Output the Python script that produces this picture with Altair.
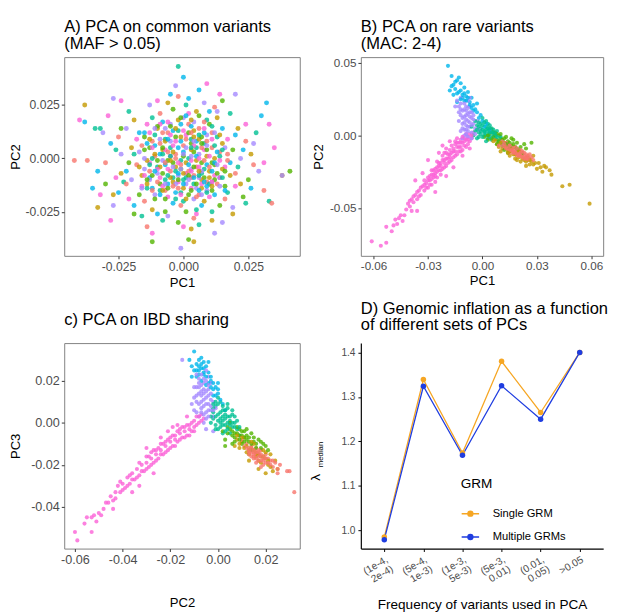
import altair as alt
import pandas as pd

PAL = ["#F8766D", "#C49A00", "#53B400", "#00C094", "#00B6EB", "#A58AFF", "#FB61D7"]
GROUPS = ["g1", "g2", "g3", "g4", "g5", "g6", "g7"]

# ---------------- Panel A: PCA on common variants (values in units of 1e-3)
A_g1 = [(-3,2),(5,-4),(-12,8),(14,3),(-7,-15),(2,16),(9,-11),(-18,-3),(20,-7),(-1,-22),(11,12),(-9,21),(-25,10),(24,8),(4,-28),(-15,-20),(16,-19),(0,6),(-5,-6),(7,5),(-22,-12),(27,-3),(-2,29),(12,24),(-30,-2),(6,-17),(-11,1),(17,-1),(-6,12),(3,-9),(-37,-1),(31,-15),(-14,-32),(-42,-1),(34,-21)]
A_g2 = [(1,-2),(-8,4),(10,-6),(-4,-11),(6,9),(-16,-8),(15,7),(-2,18),(8,-20),(-20,5),(22,-12),(-12,-24),(13,19),(-27,-17),(26,2),(-6,26),(3,-33),(19,-26),(-10,14),(0,-14),(9,1),(-14,-1),(4,13),(-19,18),(11,-29),(-3,-4),(18,-8),(-24,-7),(7,-10),(-33,-23),(38,-8),(21,14),(5,22),(-38,25),(4,-39)]
A_g3 = [(-1,-5),(4,3),(-6,-1),(8,-9),(-9,-12),(12,-3),(-3,10),(2,-17),(-13,5),(16,-13),(-17,-17),(6,20),(-21,-2),(23,-18),(-7,-25),(10,16),(-24,14),(1,-25),(14,-22),(-11,-19),(19,4),(-4,23),(7,-2),(-15,10),(-8,-7),(3,7),(11,-15),(-2,-30),(-19,-26),(25,-10),(-30,-12),(2,-38),(15,27),(41,-6),(-12,-39)]
A_g4 = [(2,0),(-5,5),(7,-7),(-10,-4),(4,-12),(-2,13),(13,10),(-14,-14),(17,-16),(-19,2),(0,-20),(9,18),(-8,-29),(21,-4),(-12,19),(5,-24),(-23,-11),(14,1),(-4,-9),(8,7),(-16,-27),(24,-21),(-26,4),(1,25),(18,21),(-7,9),(11,-25),(-1,-1),(-21,22),(28,12),(6,-31),(-34,14),(33,-20),(-2,43),(-32,14)]
A_g5 = [(0,3),(-7,-3),(5,8),(-11,6),(9,-3),(-3,-16),(14,-9),(-17,12),(3,15),(-8,17),(18,-2),(-22,-6),(7,-22),(-13,-9),(20,11),(-5,30),(12,-17),(-19,-22),(2,28),(23,4),(-28,7),(6,32),(15,14),(-10,-26),(-1,8),(10,22),(-25,-16),(26,-14),(-4,-21),(-38,17),(30,20),(0,38),(-33,-6),(32,26),(-35,-14)]
A_g6 = [(-2,-8),(6,2),(-9,9),(11,-11),(-5,16),(1,-12),(16,5),(-15,-5),(4,-19),(-20,-10),(13,22),(-11,-17),(22,0),(-6,-27),(8,26),(-24,2),(19,-23),(-13,25),(3,-5),(-17,3),(9,11),(-27,-22),(27,7),(0,19),(-8,-1),(15,-30),(-22,14),(5,-14),(-3,34),(29,-6),(-31,12),(20,30),(12,-35),(38,-8),(-1,-42),(-27,28)]
A_g7 = [(3,-1),(-4,6),(8,4),(-9,-9),(1,11),(-13,-2),(12,-8),(-6,-18),(17,9),(-18,9),(5,-26),(-14,16),(20,-13),(-2,-11),(10,-18),(-21,-19),(24,16),(-10,27),(0,-32),(-26,-9),(14,30),(6,-4),(-5,1),(16,-4),(-16,-13),(2,21),(-29,20),(31,-2),(-12,-35),(9,35),(-7,4),(35,5),(-24,27),(-40,18),(33,16),(-28,-29),(-32,-17)]
A_g1_core = [(-1,-3),(4,-8),(-6,3),(8,-1),(-10,-11),(1,9),(11,5),(-4,-13),(6,14),(-13,-6),(13,-12),(-8,12),(2,-6),(9,8),(-3,0),
             (-7,-2),(3,12),(10,-4),(-12,-15),(5,-18),(-16,6),(17,2),(-2,-14),(8,17),(-9,7)]
A_g2_core = [(3,4),(-5,-9),(7,-14),(-11,2),(12,0),(-1,10),(5,-1),(-7,8),(10,-9),(-14,-12),(0,-7),(15,-5),(-3,14),(4,10),(-9,-4),
             (-4,3),(6,-6),(-13,9),(14,11),(1,-19),(-8,-15),(11,-13),(-17,-4),(3,18),(-5,-1)]
A_g3_core = [(0,1),(-4,-2),(5,-12),(-8,5),(9,4),(-12,-8),(2,12),(13,-7),(-6,-14),(7,10),(-15,4),(11,-2),(-2,-10),(3,-15),(-10,15),
             (2,-8),(-10,-1),(7,7),(-5,15),(12,-10),(-14,-10),(4,-4),(-1,19),(16,-6),(-7,-19)]
A_g4_core = [(-3,-6),(5,5),(-7,-10),(10,-12),(-1,-16),(3,9),(-11,11),(12,6),(-5,1),(8,-5),(-13,-3),(1,-9),(15,-9),(-9,-15),(6,-8),
             (-6,-8),(3,5),(9,-16),(-12,0),(6,11),(-3,-19),(15,4),(-8,2),(0,-10),(11,15)]
A_g5_core = [(2,-3),(-6,-12),(8,12),(-9,2),(4,-9),(-2,5),(11,-6),(-14,7),(6,-15),(-4,13),(13,3),(0,-12),(-12,-14),(9,-13),(-1,16),
             (5,1),(-2,-7),(-9,-17),(8,-11),(-15,12),(12,-2),(1,20),(-6,9),(16,-15),(-11,-6)]
A_g6_core = [(1,5),(-3,-12),(6,-9),(-10,-7),(9,-15),(-5,8),(12,12),(-13,-10),(3,1),(-7,14),(14,-13),(-1,-5),(7,-6),(-15,0),(4,17),
             (-4,-4),(9,6),(-11,14),(2,-10),(13,-3),(-7,-12),(4,8),(-16,-14),(7,-17),(0,2)]
A_g7_core = [(-2,-2),(4,6),(-8,-13),(10,1),(-5,11),(7,-12),(-12,5),(1,-7),(14,-9),(-9,16),(3,-14),(-15,-8),(11,9),(0,13),(-6,-5),
             (6,0),(-3,8),(-10,-5),(11,-11),(-1,-17),(8,14),(-13,12),(3,-6),(-6,17),(14,-1)]

# ---------------- Panel B: PCA on rare variants (units of 1e-3)
B_g1 = [(10,-5),(11,-6),(12,-7),(13,-7),(14,-8),(15,-9),(16,-9),(17,-10),(18,-11),(19,-11),(20,-12),(21,-13),(22,-13),(23,-14),(24,-15),(25,-14),(26,-16),(12,-9),(14,-6),(16,-11),(18,-8),(20,-14),(22,-11),(24,-13),(13,-5),(15,-12),(17,-8),(19,-14),(21,-10),(23,-12),(25,-17),(27,-15),(11,-4),(9,-7),(26,-13),(28,-17),
        (11,-7),(13,-9),(15,-10),(17,-12),(19,-13),(21,-14),(23,-16),(12,-6),(14,-9),(16,-10),(18,-12),(20,-13),(22,-15),(24,-16),(15,-7),(19,-9),(25,-16),(21,-12),(13,-8),(17,-11)]
B_g2 = [(8,-6),(11,-9),(14,-10),(17,-13),(20,-15),(23,-17),(12,-5),(16,-9),(19,-12),(22,-13),(25,-15),(27,-18),(10,-11),(15,-14),(21,-18),(26,-20),(29,-19),(31,-19),(34,-21),(37,-24),(38,-27),(44,-35),(48,-34),(59,-47),(28,-14),(24,-21),(33,-25),(6,-4),(18,-16),(30,-23),
        (9,-8),(13,-8),(15,-11),(18,-13),(22,-16),(26,-17),(10,-5),(20,-11),(24,-18),(28,-20),(32,-22),(35,-22),(14,-12),(7,-3),(19,-17)]
B_g3 = [(4,1),(6,-1),(8,-3),(10,-2),(12,-5),(14,-4),(9,0),(16,-7),(13,-1),(18,-8),(11,-7),(15,-10),(20,-10),(7,2),(3,-3),(17,-3),(22,-12),(19,-5),(5,4),(24,-9),(12,-10),(27,-5),(21,-8),(8,-6),(14,-12),(1,-1),(16,-2),
        (5,-2),(7,0),(9,-4),(11,-3),(13,-6),(15,-5),(6,2),(10,1),(12,-2),(17,-6),(19,-9),(14,-8),(8,1),(3,0),(23,-6)]
B_g4 = [(0,4),(-2,2),(2,6),(1,0),(-3,7),(4,2),(3,-2),(-1,8),(5,5),(-4,3),(6,0),(2,10),(-2,-1),(7,-2),(0,12),(8,3),(-5,0),(3,8),(9,-4),(-1,5),(5,-3),(1,2),(4,7),(-3,-2),(10,-1),(6,4),(-6,6),(2,-4),(11,-6),(-4,10),
        (1,3),(-1,1),(3,5),(0,7),(2,1),(-2,6),(4,-1),(1,9),(5,2),(3,0),(-1,3),(6,2),(0,-1),(2,4),(7,1),(-3,4),(4,5),(8,-1),(-2,9),(3,3)]
B_g5 = [(-19,48),(-17,34),(-16,28),(-12,31),(-9,27),(-7,23),(-4,18),(-1,14),(-14,23),(-15,37),(-13,40),(-11,26),(-10,33),(-8,30),(-6,26),(-5,21),(-3,16),(-2,12),(0,10),(2,8),(-12,36),(-17,41),(-9,24),(-6,19),(1,6),(-14,29),(-18,31),(-3,22),(4,4),(-10,29),
        (-13,30),(-11,28),(-15,32),(-8,26),(-12,25),(-16,35),(-10,24),(-5,17),(-14,38),(-7,21)]
B_g6 = [(-8,10),(-9,14),(-7,6),(-10,18),(-6,12),(-11,8),(-8,3),(-12,22),(-9,20),(-7,16),(-5,8),(-10,4),(-13,16),(-6,2),(-11,12),(-8,24),(-12,26),(-4,5),(-9,7),(-7,20),(-14,24),(-10,0),(-5,14),(-6,-2),(-3,10),(-12,3),(-15,20),(-8,-1),(-4,1),(-11,-2),(-13,10),(-7,26),(-2,4),
        (-9,11),(-8,15),(-10,13),(-7,9),(-11,17),(-9,4),(-6,7),(-12,14),(-8,19),(-10,22),(-7,13),(-11,5),(-9,17),(-6,16),(-13,20),(-8,6),(-10,9),(-12,18),(-5,11),(-9,1)]
B_g7 = [(-5,2),(-6,-2),(-7,1),(-7,-4),(-8,-1),(-8,-6),(-9,-3),(-9,1),(-10,-7),(-10,-2),(-11,-5),(-11,-10),(-12,-3),(-12,-8),(-13,-11),(-13,-5),(-14,-8),(-14,-13),(-15,-6),(-15,-11),(-16,-15),(-16,-9),(-17,-12),(-17,-17),(-18,-10),(-18,-15),(-19,-19),(-19,-13),(-20,-16),(-20,-21),(-21,-12),(-21,-19),(-22,-23),(-22,-17),(-23,-21),(-23,-27),(-24,-19),(-24,-24),(-25,-29),(-25,-22),(-26,-26),(-26,-32),(-27,-24),(-27,-29),(-28,-34),(-28,-27),(-29,-31),(-30,-36),(-30,-29),(-31,-33),(-32,-38),(-33,-35),(-34,-41),(-35,-38),(-36,-44),(-37,-41),(-38,-46),(-39,-44),(-40,-49),(-41,-47),(-43,-55),(-45,-55),(-47,-61),(-48,-58),(-50,-66),(-53,-63),(-53,-74),(-56,-76),(-61,-73),(-22,-7),(-30,-17),(-37,-31),(-26,-39),(-18,-4),(-14,-2),(-24,-12),(-33,-26),(-44,-59),(-39,-52),(-36,-52),(-20,-28),(-16,-22),(-11,-14),(-7,-9),
        (-6,0),(-8,-3),(-9,-8),(-10,-4),(-12,-5),(-12,-11),(-13,-8),(-14,-5),(-15,-14),(-16,-11),(-17,-7),(-18,-13),(-18,-18),(-19,-16),(-20,-12),(-21,-17),(-21,-22),(-22,-14),(-23,-19),(-23,-24),(-24,-21),(-25,-25),(-25,-18),(-26,-23),(-26,-28),(-27,-27),(-28,-30),(-28,-24),(-29,-34),(-29,-28),(-30,-31),(-31,-36),(-32,-31),(-32,-34),(-34,-36),(-35,-42),(-36,-39),(-38,-42),(-40,-45),(-42,-51),(-46,-57),(-49,-62),(-15,-4),(-11,-1),(-20,-9)]

# ---------------- Panel C: PCA on IBD sharing (units of 1e-3)
C_g1 = [(12,-10),(13,-12),(14,-13),(15,-14),(16,-15),(17,-15),(18,-16),(19,-17),(14,-11),(16,-12),(18,-13),(20,-15),(13,-15),(15,-17),(17,-18),(19,-20),(11,-11),(21,-17),(22,-18),(16,-19),(20,-19),(23,-21),(18,-21),(14,-16),(10,-8),(24,-19),(25,-24),(23,-18),(30,-23),(32,-33),(29,-23),(25,-22),(26,-20),
        (13,-13),(14,-14),(15,-13),(16,-14),(17,-16),(18,-15),(19,-16),(15,-15),(16,-17),(17,-14),(18,-18),(14,-12),(19,-18),(20,-17),(21,-19),(12,-12),(13,-14),(17,-13),(22,-20),(15,-16)]
C_g2 = [(8,-8),(10,-9),(12,-11),(14,-12),(16,-14),(18,-16),(20,-17),(9,-12),(13,-15),(17,-18),(21,-20),(11,-7),(15,-10),(19,-13),(22,-15),(24,-18),(25,-22),(23,-23),(7,-11),(17,-22),(20,-24),(13,-18),
        (9,-10),(11,-12),(13,-13),(15,-13),(17,-15),(19,-16),(21,-18),(10,-7),(12,-14),(16,-16),(18,-19),(22,-21),(14,-9),(20,-14),(8,-6)]
C_g3 = [(4,-2),(6,-4),(8,-5),(10,-6),(12,-8),(9,-3),(11,-4),(13,-7),(15,-9),(7,-7),(14,-5),(16,-10),(5,0),(17,-8),(3,-8),(18,-12),(10,-10),(12,-3),(20,-11),(6,-10),(14,-13),
        (5,-3),(7,-5),(9,-6),(11,-7),(13,-9),(8,-2),(10,-4),(12,-6),(15,-7),(6,-6),(16,-12),(4,-5),(14,-10),(11,-9),(9,-8),
        (2,-4),(18,-9),(21,-13),(19,-10),(7,-9),(3,-11)]
C_g4 = [(0,4),(-1,8),(1,0),(2,6),(-2,2),(3,-1),(4,3),(0,-3),(5,1),(1,10),(-3,0),(6,-2),(2,-5),(4,7),(7,0),(3,2),(-1,-1),(5,-5),(8,-3),(0,12),(6,4),(-2,5),(9,-6),(2,3),
        (1,5),(0,1),(2,8),(-1,3),(3,4),(4,0),(1,-2),(5,3),(2,1),(-2,7),(6,0),(3,6),(0,9),(4,-3),(7,-2),(1,2),(-1,10),(5,-1),(3,-4),(2,-1),
        (-2,9),(-3,3),(6,6),(8,1),(-1,-3),(4,9),(9,-2),(7,3)]
C_g5 = [(-10,34),(-7,28),(-5,27),(-8,25),(-6,23),(-4,24),(-3,20),(-1,17),(0,14),(-9,22),(-2,13),(1,11),(-7,20),(-4,29),(-6,26),(2,9),(-11,27),(-3,17),(0,19),(3,6),(-8,30),(-5,18),
        (-6,24),(-5,22),(-7,26),(-3,22),(-4,19),(-8,27),(-2,16),(-6,29),(-9,25),(-1,13),
        (-9,28),(-10,25),(-11,22),(-8,23),(-2,19),(-12,30),(0,16),(-7,31)]
C_g6 = [(-6,8),(-5,12),(-7,5),(-4,16),(-8,14),(-3,6),(-6,19),(-9,10),(-5,2),(-2,10),(-7,18),(-4,22),(-8,3),(-3,14),(-6,0),(-9,17),(-2,3),(-5,25),(-7,10),(-4,9),(-10,6),(-1,7),(-6,14),(-3,19),(-8,21),(-15,30),(-5,-3),(-2,-4),
        (-5,9),(-6,11),(-7,7),(-4,13),(-5,5),(-8,9),(-3,11),(-6,16),(-7,13),(-4,18),(-5,20),(-8,17),(-6,4),(-3,8),(-9,13),(-7,23),(-2,6),(-6,21),(-4,3),(-5,15),
        (-9,5),(-10,12),(-8,19),(-9,23),(-10,17),(-7,15),(-11,9),(-4,6)]
C_g7 = [(-6,2),(-7,4),(-8,0),(-9,-1),(-9,3),(-10,-2),(-11,0),(-11,-4),(-12,-3),(-13,-1),(-13,-6),(-14,-4),(-15,-7),(-15,-2),(-16,-5),(-17,-9),(-17,-4),(-18,-8),(-19,-11),(-19,-6),(-20,-9),(-21,-13),(-21,-8),(-22,-11),(-23,-15),(-23,-10),(-24,-13),(-25,-17),(-25,-12),(-26,-15),(-27,-19),(-27,-13),(-28,-17),(-29,-21),(-29,-16),(-30,-19),(-31,-23),(-32,-20),(-33,-25),(-34,-22),(-35,-27),(-36,-24),(-37,-29),(-38,-26),(-39,-31),(-40,-29),(-41,-33),(-42,-30),(-43,-36),(-45,-35),(-46,-38),(-48,-41),(-50,-43),(-51,-47),(-53,-45),(-55,-45),(-56,-48),(-53,-52),(-59,-56),(-60,-52),(-19,-2),(-24,-7),(-30,-12),(-36,-33),(-44,-41),(-33,-30),(-27,-24),
        (-7,1),(-8,3),(-10,1),(-10,-4),(-12,-1),(-12,-6),(-14,-2),(-14,-7),(-16,-8),(-16,-3),(-18,-6),(-18,-11),(-20,-12),(-20,-7),(-22,-9),(-22,-14),(-24,-10),(-24,-15),(-26,-13),(-26,-18),(-28,-14),(-28,-20),(-30,-16),(-30,-22),(-32,-23),(-33,-19),(-34,-26),(-36,-27),(-37,-25),(-38,-30),(-40,-32),(-41,-28),(-43,-33),(-44,-37),(-47,-38),(-49,-44),(-52,-44),(-17,-1),(-21,-4),(-13,3)]

# ---------------- Panel D: genomic inflation
D_cats = ["(1e-4, 2e-4)", "(5e-4, 1e-3)", "(1e-3, 5e-3)", "(5e-3, 0.01)", "(0.01, 0.05)", ">0.05"]
D_single = [0.985, 1.339, 1.174, 1.380, 1.265, 1.400]
D_multiple = [0.979, 1.324, 1.169, 1.325, 1.250, 1.400]
D_series = ["Single GRM", "Multiple GRMs"]
D_colors = ["#F6A623", "#1F3DE0"]

FONT = "Liberation Sans"
LABEL_GRAY = "#4D4D4D"
FRAME = "#7F7F7F"
TITLE_SIZE = 17


def build(groups_pts):
    rows = []
    n = max(len(p) for p in groups_pts)
    for i in range(n):
        for g, pts in zip(GROUPS, groups_pts):
            if i < len(pts):
                x, y = pts[i]
                rows.append({"x": x / 1000.0, "y": y / 1000.0, "grp": g})
    return pd.DataFrame(rows)


def lbl(fmt):
    return "replace(format(datum.value, '" + fmt + "'), '\u2212', '-')"


def scatter(df, xdom, ydom, xticks, yticks, xfmt, yfmt, xtitle, ytitle, title,
            w, h, lsize, tsize, offset, xtpad, ytpad, ptsize):
    axis_common = dict(grid=False, domain=False, tickColor="#333333", tickSize=3,
                       labelColor=LABEL_GRAY, labelFontSize=lsize, labelPadding=2,
                       titleFontSize=tsize, titleFontWeight="normal", titleColor="black")
    return alt.Chart(df).mark_circle(size=ptsize, opacity=0.8).encode(
        x=alt.X("x:Q", scale=alt.Scale(domain=xdom, nice=False, zero=False),
                axis=alt.Axis(values=xticks, labelExpr=lbl(xfmt), title=xtitle,
                              titlePadding=xtpad, **axis_common)),
        y=alt.Y("y:Q", scale=alt.Scale(domain=ydom, nice=False, zero=False),
                axis=alt.Axis(values=yticks, labelExpr=lbl(yfmt), title=ytitle,
                              titlePadding=ytpad, **axis_common)),
        color=alt.Color("grp:N", scale=alt.Scale(domain=GROUPS, range=PAL), legend=None),
    ).properties(
        width=w, height=h,
        title=alt.TitleParams(text=title, anchor="start", frame="group", fontSize=TITLE_SIZE,
                              fontWeight="normal", color="black", offset=offset, lineHeight=17.5),
        view=alt.ViewBackground(stroke=FRAME, strokeWidth=1),
    )


dfA = build([A_g1 + A_g1_core, A_g2 + A_g2_core, A_g3 + A_g3_core, A_g4 + A_g4_core,
             A_g5 + A_g5_core, A_g6 + A_g6_core, A_g7 + A_g7_core])
dfB = build([B_g1, B_g2, B_g3, B_g4, B_g5, B_g6, B_g7])
dfC = build([C_g1, C_g2, C_g3, C_g4, C_g5, C_g6, C_g7])

chA = scatter(dfA, [-0.0459, 0.0448], [-0.0456, 0.0474], [-0.025, 0, 0.025], [-0.025, 0, 0.025],
              ".3f", ".3f", "PC1", "PC2", ["A) PCA on common variants", " (MAF > 0.05)"],
              243, 205, 12.5, 13.5, 4, 3, 3, 26)
chB = scatter(dfB, [-0.067, 0.0665], [-0.083, 0.054], [-0.06, -0.03, 0, 0.03, 0.06], [-0.05, 0, 0.05],
              ".2f", ".2f", "PC1", "PC2", ["B) PCA on rare variants", " (MAC: 2-4)"],
              250, 205, 12, 13.5, 4, 3, 4, 18)
chC = scatter(dfC, [-0.0645, 0.0343], [-0.0599, 0.038], [-0.06, -0.04, -0.02, 0, 0.02], [-0.04, -0.02, 0, 0.02],
              ".2f", ".2f", "PC2", "PC3", "c) PCA on IBD sharing",
              243, 212, 13, 13.5, 15, 31, 8, 18)

# Panel D
rowsD = []
for s, vals in zip(D_series, [D_single, D_multiple]):
    for c, v in zip(D_cats, vals):
        rowsD.append({"cat": c, "lam": v, "grm": s})
dfD = pd.DataFrame(rowsD)

LEG_PATH = ("M-1,0H1M-0.28,0A0.28,0.28,0,1,0,0.28,0A0.28,0.28,0,1,0,-0.28,0"
            "M-0.14,0A0.14,0.14,0,1,0,0.14,0A0.14,0.14,0,1,0,-0.14,0")
colD = alt.Color("grm:N", scale=alt.Scale(domain=D_series, range=D_colors),
                 legend=alt.Legend(title="GRM", orient="none", legendX=103, legendY=139,
                                   titleFontSize=14, titleFontWeight="normal", titleColor="black",
                                   titlePadding=13, labelFontSize=11.5, labelColor="black",
                                   symbolType=LEG_PATH, symbolSize=324, symbolStrokeWidth=1.5,
                                   labelOffset=13, rowPadding=8, padding=0))
xD = alt.X("cat:N", sort=D_cats, scale=alt.Scale(type="point", padding=0.6),
           axis=alt.Axis(title="Frequency of variants used in PCA", labelAngle=-30,
                         labelAlign="right", labelBaseline="top",
                         labelExpr="split(datum.label, ' ')", labelLineHeight=11,
                         labelFontSize=10.5, labelColor=LABEL_GRAY, labelPadding=3,
                         domainColor="black", domainWidth=1.2, tickColor="black", tickSize=3,
                         titleFontSize=14, titleFontWeight="normal", titleColor="black",
                         titlePadding=12, grid=False))
yD = alt.Y("lam:Q", scale=alt.Scale(domain=[0.959, 1.421], nice=False, zero=False),
           axis=alt.Axis(title=None, values=[1.0, 1.1, 1.2, 1.3, 1.4], format=".1f",
                         labelFontSize=10.5, labelColor=LABEL_GRAY, labelPadding=3,
                         domainColor="black", domainWidth=1.2, tickColor="black", tickSize=3,
                         grid=False))
linesD = alt.Chart(dfD).mark_line(strokeWidth=1.3).encode(x=xD, y=yD, color=colD)
ptsD = alt.Chart(dfD).mark_circle(size=32, opacity=1).encode(x=xD, y=yD, color=colD)
lamT = alt.Chart(pd.DataFrame({"t": ["λ"]})).mark_text(
    angle=270, fontSize=14, align="left", baseline="alphabetic", color="black"
).encode(text="t:N", x=alt.value(-42), y=alt.value(142))
medT = alt.Chart(pd.DataFrame({"t": ["median"]})).mark_text(
    angle=270, fontSize=8, align="left", baseline="alphabetic", color="black"
).encode(text="t:N", x=alt.value(-39), y=alt.value(128))

chD = alt.layer(linesD, ptsD, lamT, medT).properties(
    width=250, height=212,
    title=alt.TitleParams(text=["D) Genomic inflation as a function", " of different sets of PCs"],
                          anchor="start", frame="group", fontSize=TITLE_SIZE, fontWeight="normal",
                          color="black", offset=9, lineHeight=17.5),
    view=alt.ViewBackground(stroke=None),
)

chart = alt.concat(chA, chB, chC, chD, columns=2, spacing={"row": 90, "column": 63},
                   bounds="flush").resolve_scale(color="independent").properties(
    padding=0).configure(font=FONT)

chart.save("out.html", embed_options={"renderer": "svg", "actions": False})
